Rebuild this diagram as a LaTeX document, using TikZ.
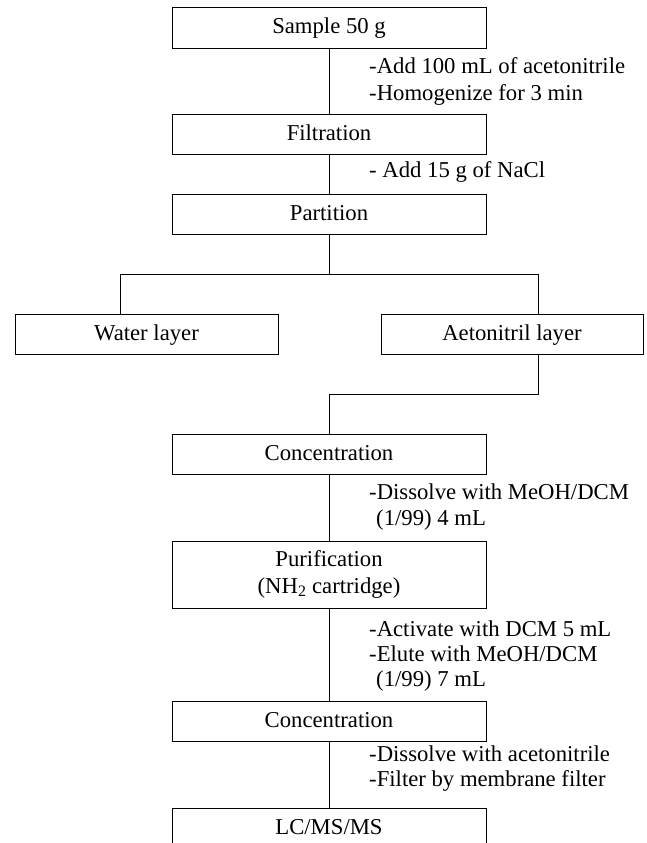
\documentclass[tikz,border=0pt]{standalone}
\usepackage{fontspec}
\setmainfont{Liberation Serif}
\begin{document}
\begin{tikzpicture}[x=1pt,y=-1pt,
  font=\fontsize{22.7}{27}\selectfont,
  box/.style={draw, line width=0.9pt, minimum width=314pt, minimum height=40pt, inner sep=0pt},
  oneline/.style={box, text height=17pt, text depth=5pt},
  sidebox/.style={oneline, minimum width=263pt},
  link/.style={line width=0.9pt},
  note/.style={anchor=base west, inner sep=0pt}]
\useasboundingbox (0,0) rectangle (647,843);
\clip (0,0) rectangle (647,843);
% main boxes
\node[oneline, minimum height=41pt] (b1) at (329,27.5) {Sample 50 g};
\node[oneline] (b2) at (329,134) {Filtration};
\node[oneline] (b3) at (329,214) {Partition};
\node[sidebox] (water) at (146.5,334) {Water layer};
\node[sidebox, minimum width=262pt] (acet) at (512,334) {Aetonitril layer};
\node[oneline] (c1) at (329,454) {Concentration};
\node[box, minimum height=67pt, align=center] (pur) at (329,574.5) {Purification\\(NH\textsubscript{2} cartridge)};
\node[oneline] (c2) at (329,721) {Concentration};
\node[oneline] (lc) at (329,828) {LC/MS/MS};
% connector points
\coordinate (jl) at (120,274);
\coordinate (jr) at (538,274);
\coordinate (jog) at (538,394);
% connectors
\draw[link] (b1) -- (b2);
\draw[link] (b2) -- (b3);
\draw[link] (b3.south) -- (b3.south |- jl);
\draw[link] (jl |- water.north) -- (jl) -- (jr) -- (jr |- acet.north);
\draw[link] (jr |- acet.south) -- (jog) -| (c1.north);
\draw[link] (c1) -- (pur);
\draw[link] (pur) -- (c2);
\draw[link] (c2) -- (lc);
% notes
\node[note] (n1) at (369,74) {-Add 100 mL of acetonitrile};
\node[note] (n2) at (369,100) {-Homogenize for 3 min};
\node[note] (n3) at (369,177) {- Add 15 g of NaCl};
\node[note] (n4) at (369,499) {-Dissolve with MeOH/DCM};
\node[note] (n5) at (376,525) {(1/99) 4 mL};
\node[note] (n6) at (369,636) {-Activate with DCM 5 mL};
\node[note] (n7) at (369,661) {-Elute with MeOH/DCM};
\node[note] (n8) at (376,686) {(1/99) 7 mL};
\node[note] (n9) at (369,761) {-Dissolve with acetonitrile};
\node[note] (n10) at (369,786) {-Filter by membrane filter};
\end{tikzpicture}
\end{document}
